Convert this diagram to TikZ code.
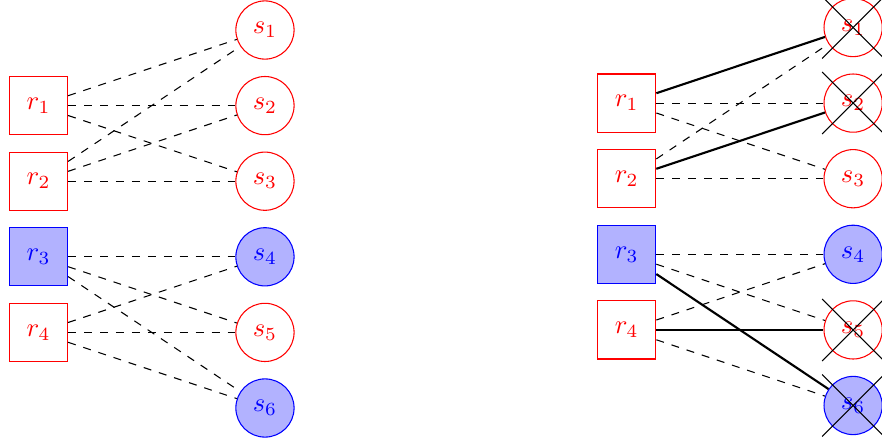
\documentclass[tikz,border=0pt]{standalone}
\begin{document}
\begin{tikzpicture}[
  rbox/.style={draw=red, text=red, minimum size=0.77cm, inner sep=0pt},
  bbox/.style={draw=blue, fill=blue!30, text=blue, minimum size=0.77cm, inner sep=0pt},
  rcirc/.style={circle, draw=red, text=red, minimum size=0.77cm, inner sep=0pt},
  bcirc/.style={circle, draw=blue, fill=blue!30, text=blue, minimum size=0.77cm, inner sep=0pt},
  cand/.style={dashed},
  chosen/.style={thick},
  xline/.style={black}
]
\useasboundingbox (0,0) rectangle (11.667,-5.847);
% ---------- left picture ----------
\node[rbox] (lr1) at (0.509,-1.397) {$r_1$};
\node[rbox] (lr2) at (0.509,-2.397) {$r_2$};
\node[bbox] (lr3) at (0.509,-3.397) {$r_3$};
\node[rbox] (lr4) at (0.509,-4.397) {$r_4$};
\node[rcirc] (ls1) at (3.505,-0.397) {$s_1$};
\node[rcirc] (ls2) at (3.505,-1.397) {$s_2$};
\node[rcirc] (ls3) at (3.505,-2.397) {$s_3$};
\node[bcirc] (ls4) at (3.505,-3.397) {$s_4$};
\node[rcirc] (ls5) at (3.505,-4.397) {$s_5$};
\node[bcirc] (ls6) at (3.505,-5.397) {$s_6$};
\draw[cand] (lr1) -- (ls1);
\draw[cand] (lr1) -- (ls2);
\draw[cand] (lr1) -- (ls3);
\draw[cand] (lr2) -- (ls1);
\draw[cand] (lr2) -- (ls2);
\draw[cand] (lr2) -- (ls3);
\draw[cand] (lr3) -- (ls4);
\draw[cand] (lr3) -- (ls5);
\draw[cand] (lr3) -- (ls6);
\draw[cand] (lr4) -- (ls4);
\draw[cand] (lr4) -- (ls5);
\draw[cand] (lr4) -- (ls6);
% ---------- right picture ----------
\node[rbox] (rr1) at (8.29,-1.364) {$r_1$};
\node[rbox] (rr2) at (8.29,-2.364) {$r_2$};
\node[bbox] (rr3) at (8.29,-3.364) {$r_3$};
\node[rbox] (rr4) at (8.29,-4.364) {$r_4$};
\node[rcirc] (rs1) at (11.285,-0.364) {$s_1$};
\node[rcirc] (rs2) at (11.285,-1.364) {$s_2$};
\node[rcirc] (rs3) at (11.285,-2.364) {$s_3$};
\node[bcirc] (rs4) at (11.285,-3.364) {$s_4$};
\node[rcirc] (rs5) at (11.285,-4.364) {$s_5$};
\node[bcirc] (rs6) at (11.285,-5.364) {$s_6$};
\draw[chosen] (rr1) -- (rs1);
\draw[cand] (rr1) -- (rs2);
\draw[cand] (rr1) -- (rs3);
\draw[cand] (rr2) -- (rs1);
\draw[chosen] (rr2) -- (rs2);
\draw[cand] (rr2) -- (rs3);
\draw[cand] (rr3) -- (rs4);
\draw[cand] (rr3) -- (rs5);
\draw[chosen] (rr3) -- (rs6);
\draw[cand] (rr4) -- (rs4);
\draw[chosen] (rr4) -- (rs5);
\draw[cand] (rr4) -- (rs6);
\foreach \n in {rs1,rs2,rs5,rs6}{
  \draw[xline] ([shift={(-0.41,-0.41)}]\n.center) -- ([shift={(0.41,0.41)}]\n.center);
  \draw[xline] ([shift={(-0.41,0.41)}]\n.center) -- ([shift={(0.41,-0.41)}]\n.center);
}
\end{tikzpicture}
\end{document}
